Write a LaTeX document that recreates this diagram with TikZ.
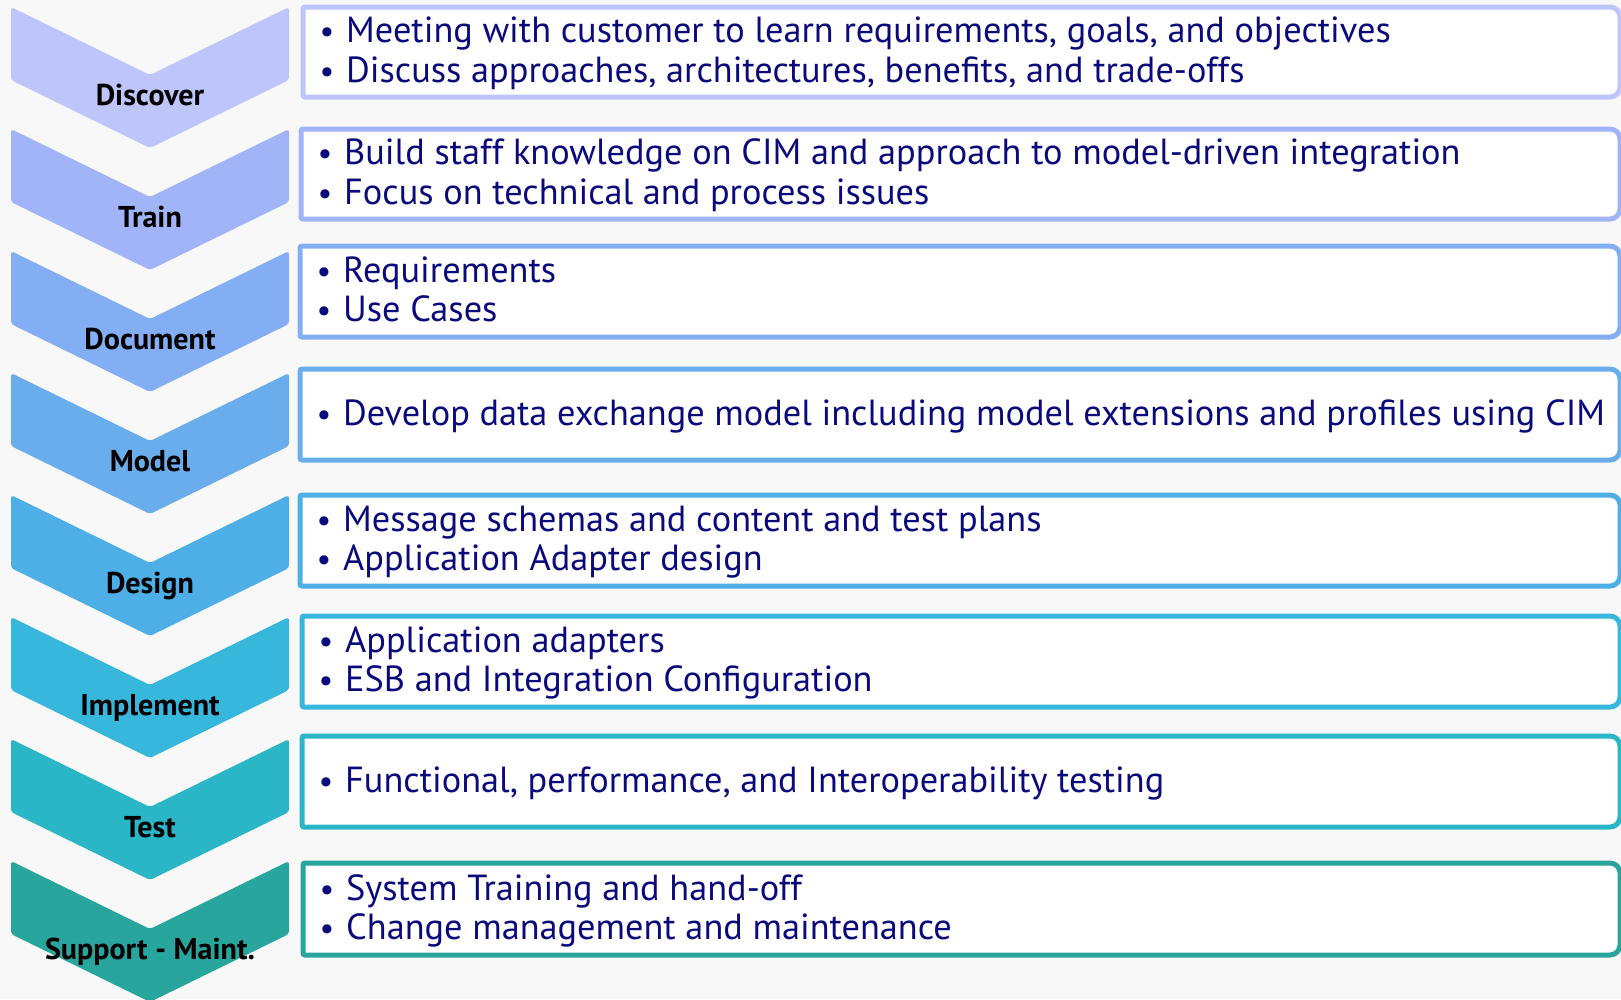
\documentclass[tikz,border=0pt]{standalone}
\usepackage{fontspec}
\setmainfont{PT Sans}
\definecolor{bgc}{HTML}{F8F8F8}
\definecolor{navy}{HTML}{0A0A7C}
\definecolor{c1}{HTML}{BDC5FB}
\definecolor{c2}{HTML}{A2B4F8}
\definecolor{c3}{HTML}{84AEF3}
\definecolor{c4}{HTML}{6AADEC}
\definecolor{c5}{HTML}{4DAFE6}
\definecolor{c6}{HTML}{38B7DD}
\definecolor{c7}{HTML}{2AB6C6}
\definecolor{c8}{HTML}{28A59D}
\newlength\Lw
\newcommand\bitem[4]{%
  \node[bul] (#1b) at (#2+24,#3) {•};
  \node[btxt] (#1) at (#2+43,#3) {#4};}
\begin{document}
\settowidth\Lw{\fontsize{10}{12}\selectfont Develop data exchange model including model extensions and profiles using CIM}%
\pgfmathsetmacro\bsz{10*1262/\Lw}%
\pgfmathsetmacro\bulsz{0.9*\bsz}%
\settowidth\Lw{\fontsize{10}{12}\selectfont\bfseries Support - Maint.}%
\pgfmathsetmacro\lsz{10*210/\Lw}%
\begin{tikzpicture}[x=1pt,y=-1pt]
\tikzset{
  bul/.style={anchor=base, inner sep=0pt, text=navy, font=\fontsize{\bulsz}{\bsz}\selectfont},
  btxt/.style={anchor=base west, inner sep=0pt, text=navy, font=\fontsize{\bsz}{\bsz}\selectfont},
  labstyle/.style={anchor=base, inner sep=0pt, text=black, font=\fontsize{\lsz}{\lsz}\selectfont\bfseries},
  boxline/.style={line width=5pt, fill=white}
}
\useasboundingbox (0,0) rectangle (1621,999);
\fill[bgc] (0,0) rectangle (1621,999);
% chevrons
\foreach \i/\t/\c/\lab in {1/7/c1/Discover,2/129/c2/Train,3/251/c3/Document,4/373/c4/Model,5/495/c5/Design,6/617/c6/Implement,7/739/c7/Test,8/861/c8/Support - Maint.}{
  \fill[\c, rounded corners=3pt] (11,\t) -- (150,\t+68) -- (289,\t) -- (289,\t+73) -- (150,\t+141) -- (11,\t+73) -- cycle;
  \node[labstyle] (lab\i) at (150,\t+98) {\lab};
}
% boxes
\foreach \i/\L/\T/\B/\c in {1/303/7/97/c1,2/301/129/219/c2,3/300/246/337/c3,4/300/369/460/c4,5/300/495/586/c5,6/302/616/707/c6,7/302/736/827/c7,8/303/863/955/c8}{
  \draw[boxline, draw=\c, rounded corners=2pt] (\L,\T) [rounded corners=10pt] -- (1620,\T) -- (1620,\B) [rounded corners=2pt] -- (\L,\B) -- cycle;
}
% texts
\bitem{t1a}{303}{42.5}{Meeting with customer to learn requirements, goals, and objectives}
\bitem{t1b}{303}{82}{Discuss approaches, architectures, benefits, and trade-offs}
\bitem{t2a}{301}{164.5}{Build staff knowledge on CIM and approach to model-driven integration}
\bitem{t2b}{301}{204}{Focus on technical and process issues}
\bitem{t3a}{300}{282}{Requirements}
\bitem{t3b}{300}{321.5}{Use Cases}
\bitem{t4a}{300}{425}{Develop data exchange model including model extensions and profiles using CIM}
\bitem{t5a}{300}{531}{Message schemas and content and test plans}
\bitem{t5b}{300}{570.5}{Application Adapter design}
\bitem{t6a}{302}{652}{Application adapters}
\bitem{t6b}{302}{691.5}{ESB and Integration Configuration}
\bitem{t7a}{302}{792}{Functional, performance, and Interoperability testing}
\bitem{t8a}{303}{900}{System Training and hand-off}
\bitem{t8b}{303}{939.5}{Change management and maintenance}
\end{tikzpicture}
\end{document}
